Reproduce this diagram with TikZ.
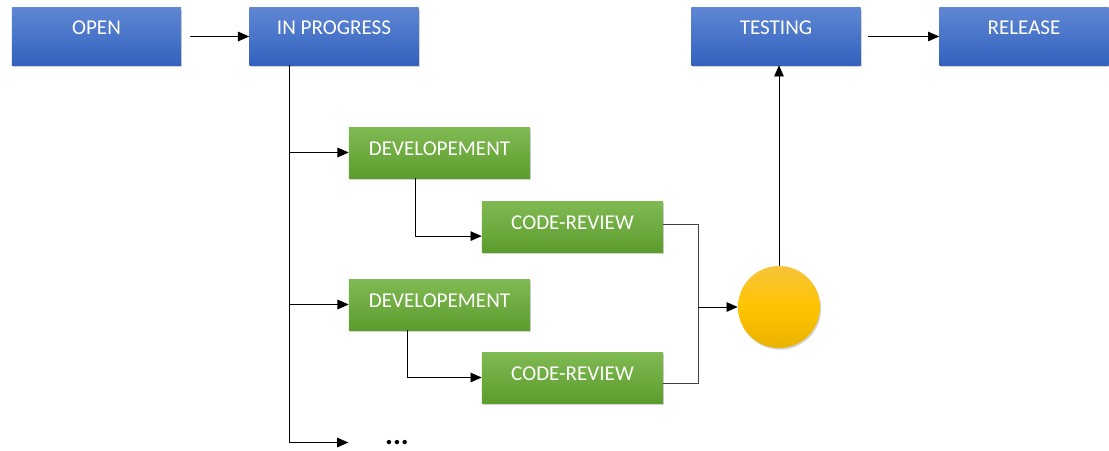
\documentclass[tikz,border=0pt]{standalone}
\usepackage{fontspec}
\setmainfont{Carlito}
\usepackage{tikz}
\usetikzlibrary{positioning,arrows.meta,shadows}

\definecolor{bluetop}{HTML}{5F86D3}
\definecolor{bluebot}{HTML}{3262BE}
\definecolor{greentop}{HTML}{80BA53}
\definecolor{greenbot}{HTML}{5C9D2E}
\definecolor{suntop}{HTML}{F7C43A}
\definecolor{sunmid}{HTML}{FFC400}
\definecolor{sunbot}{HTML}{EAB200}

\begin{document}
\begin{tikzpicture}[x=0.025cm,y=-0.025cm,
		stage/.style={rectangle, top color=bluetop, bottom color=bluebot, text=white,
			minimum width=4.225cm, inner xsep=0pt, inner ysep=0pt,
			text height=0.67cm, text depth=0.755cm, font=\fontsize{15}{17}\selectfont,
			drop shadow={opacity=0.35, shadow xshift=0.8pt, shadow yshift=-1.2pt}},
		task/.style={rectangle, top color=greentop, bottom color=greenbot, text=white,
			minimum width=4.525cm, inner xsep=0pt, inner ysep=0pt,
			text height=0.72cm, text depth=0.555cm, font=\fontsize{15}{17}\selectfont,
			drop shadow={opacity=0.35, shadow xshift=0.8pt, shadow yshift=-1.2pt}},
		arr/.style={-{Triangle[length=2.8mm,width=2.4mm]}, black, line width=0.6pt},
		wire/.style={draw=black!75, line width=0.6pt}]
	\useasboundingbox (0,0) rectangle (1109,450);
	
	% main flow
	\node[stage] (open) at (96.5,36.5) {OPEN};
	\node[stage] (inprog) at (334,36.5) {IN PROGRESS};
	\node[stage] (testing) at (776,36.5) {TESTING};
	\node[stage] (release) at (1024,36.5) {RELEASE};
	
	% sub tasks
	\node[task] (dev1) at (439.5,152.5) {DEVELOPEMENT};
	\node[task] (cr1) at (572.5,226.5) {CODE-REVIEW};
	\node[task] (dev2) at (439.5,304.5) {DEVELOPEMENT};
	\node[task] (cr2) at (572.5,377.5) {CODE-REVIEW};
	\node[font=\fontsize{21}{23}\selectfont\bfseries, inner sep=0pt] (more) at (397,442.5) {...};
	
	\node[circle, minimum size=2.05cm, inner sep=0pt, top color=suntop, bottom color=sunbot,
		middle color=sunmid, drop shadow={opacity=0.35, shadow xshift=0.8pt, shadow yshift=-1.2pt}] (merge) at (779,307) {};
	
	\coordinate (spine) at (289,65);
	\coordinate (join) at (698,307);
	
	\draw[arr, shorten <=6.4pt] (open) -- (inprog);
	\draw[arr, shorten <=5pt] (testing) -- (release);
	
	\draw[wire] (spine) -- (spine |- more);
	\draw[arr] (spine) |- (dev1.west);
	\draw[arr] (spine) |- (dev2.west);
	\draw[arr, shorten >=26pt] (spine) |- (more.west);
	
	\draw[arr] ([xshift=-0.59cm]dev1.south) |- ([yshift=-0.24cm]cr1.west);
	\draw[arr] ([xshift=-0.81cm]dev2.south) |- (cr2.west);
	
	\draw[wire] ([yshift=0.06cm]cr1.east) -| (join);
	\draw[wire] ([yshift=-0.16cm]cr2.east) -| (join);
	\draw[arr] (join) -- (merge);
	\draw[arr] (merge.north) -- (merge.north |- testing.south);
\end{tikzpicture}
\end{document}
